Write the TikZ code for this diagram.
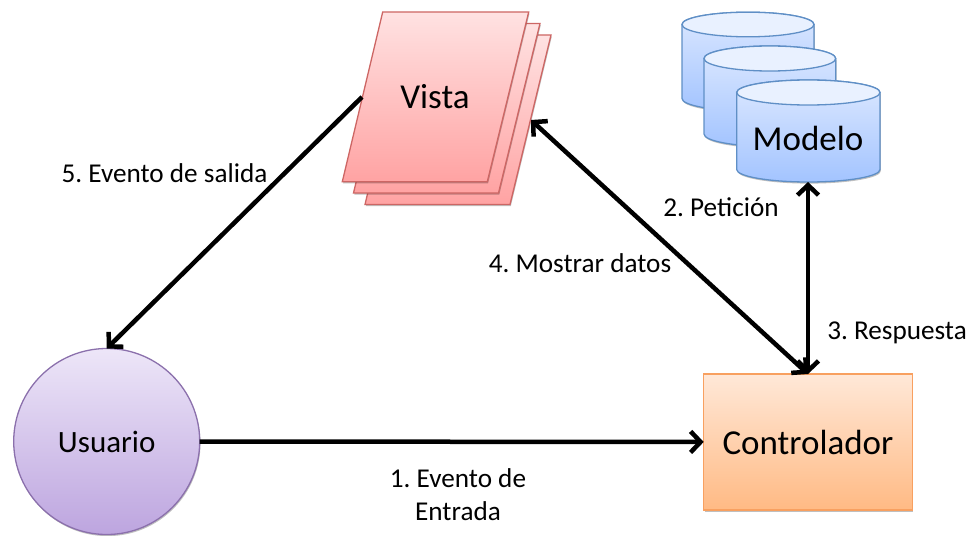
\documentclass[tikz,border=0pt]{standalone}
\usepackage{fontspec}
\setmainfont{Carlito}
\usetikzlibrary{arrows.meta,shadows}
\definecolor{pinkB}{HTML}{CD6664}
\definecolor{pinkT}{HTML}{FFE2E2}
\definecolor{pinkD}{HTML}{FFA3A3}
\definecolor{blueB}{HTML}{5F8FC6}
\definecolor{blueT}{HTML}{DCE8FF}
\definecolor{blueD}{HTML}{A3C4FF}
\definecolor{blueL}{HTML}{E9F1FF}
\definecolor{purpB}{HTML}{8B70AC}
\definecolor{purpT}{HTML}{EDE6F8}
\definecolor{purpM}{HTML}{DFCEEC}
\definecolor{purpD}{HTML}{BDA5DF}
\definecolor{orB}{HTML}{F8A060}
\definecolor{orT}{HTML}{FFE8D8}
\definecolor{orD}{HTML}{FFBA84}
\tikzset{
  softshadow/.style={drop shadow={shadow xshift=0.8pt,shadow yshift=-1.6pt,opacity=.25,fill=black}},
  sheetA/.style={draw=pinkB,line width=1.3pt,top color=pinkT,bottom color=pinkD,softshadow},
  cylbody/.style={draw=blueB,line width=1.3pt,top color=blueT,bottom color=blueD,softshadow},
  cyltop/.style={draw=blueB,line width=1.3pt,fill=blueL},
  big/.style={font=\fontsize{35}{40}\selectfont,inner sep=0pt},
  mid/.style={font=\fontsize{31}{36}\selectfont,inner sep=0pt},
  lab/.style={font=\fontsize{27.2}{33}\selectfont\frenchspacing,inner sep=0pt,align=center},
  link/.style={line width=4.5pt,black,-{Straight Barb[length=10pt,width=21pt,line width=4.5pt]}},
  dlink/.style={line width=4.5pt,black,{Straight Barb[length=10pt,width=21pt,line width=4.5pt]}-{Straight Barb[length=10pt,width=21pt,line width=4.5pt]}}
}
\newcommand{\dbcyl}[5]{% left, right, top centre y, y radius, bottom centre y
  \pgfmathsetmacro{\cmx}{(#1+#2)/2}
  \pgfmathsetmacro{\ckx}{.5523*(#2-#1)/2}
  \pgfmathsetmacro{\cky}{.5523*#4}
  \pgfmathsetmacro{\cu}{#3-#4}
  \pgfmathsetmacro{\cd}{#3+#4}
  \pgfmathsetmacro{\cb}{#5+#4}
  \path[cylbody] (#1,#3) -- (#1,#5)
    .. controls (#1,#5+\cky) and (\cmx-\ckx,\cb) .. (\cmx,\cb)
    .. controls (\cmx+\ckx,\cb) and (#2,#5+\cky) .. (#2,#5)
    -- (#2,#3)
    .. controls (#2,#3-\cky) and (\cmx+\ckx,\cu) .. (\cmx,\cu)
    .. controls (\cmx-\ckx,\cu) and (#1,#3-\cky) .. (#1,#3) -- cycle;
  \path[cyltop] (#1,#3)
    .. controls (#1,#3-\cky) and (\cmx-\ckx,\cu) .. (\cmx,\cu)
    .. controls (\cmx+\ckx,\cu) and (#2,#3-\cky) .. (#2,#3)
    .. controls (#2,#3+\cky) and (\cmx+\ckx,\cd) .. (\cmx,\cd)
    .. controls (\cmx-\ckx,\cd) and (#1,#3+\cky) .. (#1,#3) -- cycle;
}
\begin{document}
\begin{tikzpicture}[x=1pt,y=-1pt]
\useasboundingbox (0,0) rectangle (971,535);
% Vista sheets
\path[sheetA] (405,35) -- (551,35) -- (510,204.5) -- (365,204.5) -- cycle;
\path[sheetA] (394,23.5) -- (540,23.5) -- (498.5,193) -- (353.5,193) -- cycle;
\path[sheetA] (382.7,12) -- (528.7,12) -- (487.3,181.7) -- (342.3,181.7) -- cycle;
\node[big] (vista) at (435,97) {Vista};
\coordinate (vistaL) at (362,97);
\coordinate (vistaR) at (531,120);
% Modelo cylinders
\dbcyl{682}{814}{24.5}{12.3}{98.5}
\dbcyl{704}{835.7}{58.5}{12.5}{134}
\dbcyl{736.7}{880}{92.5}{12.5}{169.5}
\node[big] (modelo) at (808,138) {Modelo};
\coordinate (modeloS) at (808,182);
% Usuario
\node[circle,draw=purpB,line width=1.3pt,minimum size=186pt,inner sep=0pt,outer sep=0pt,
  top color=purpT,middle color=purpM,bottom color=purpD,
  mid,softshadow] (usuario) at (106.7,441.5) {Usuario};
% Controlador
\node[draw=orB,line width=1.3pt,minimum width=208.6pt,minimum height=136pt,inner sep=0pt,outer sep=0pt,
  top color=orT,bottom color=orD,big,softshadow] (ctrl) at (808,442) {Controlador};
% Connectors
\draw[link] (usuario) -- (ctrl);
\draw[link] (vistaL) -- (usuario.north);
\draw[dlink] (ctrl.north) -- (vistaR);
\draw[dlink] (modeloS) -- (ctrl.north);
% Labels
\node[lab] (l5) at (164.5,173) {5. Evento de salida};
\node[lab] (l4) at (580,263) {4. Mostrar datos};
\node[lab] (l2) at (721,207) {2. Petición};
\node[lab] (l3) at (897,333) {3. Respuesta};
\node[lab] (l1) at (458,495) {1. Evento de\\Entrada};
\end{tikzpicture}
\end{document}
